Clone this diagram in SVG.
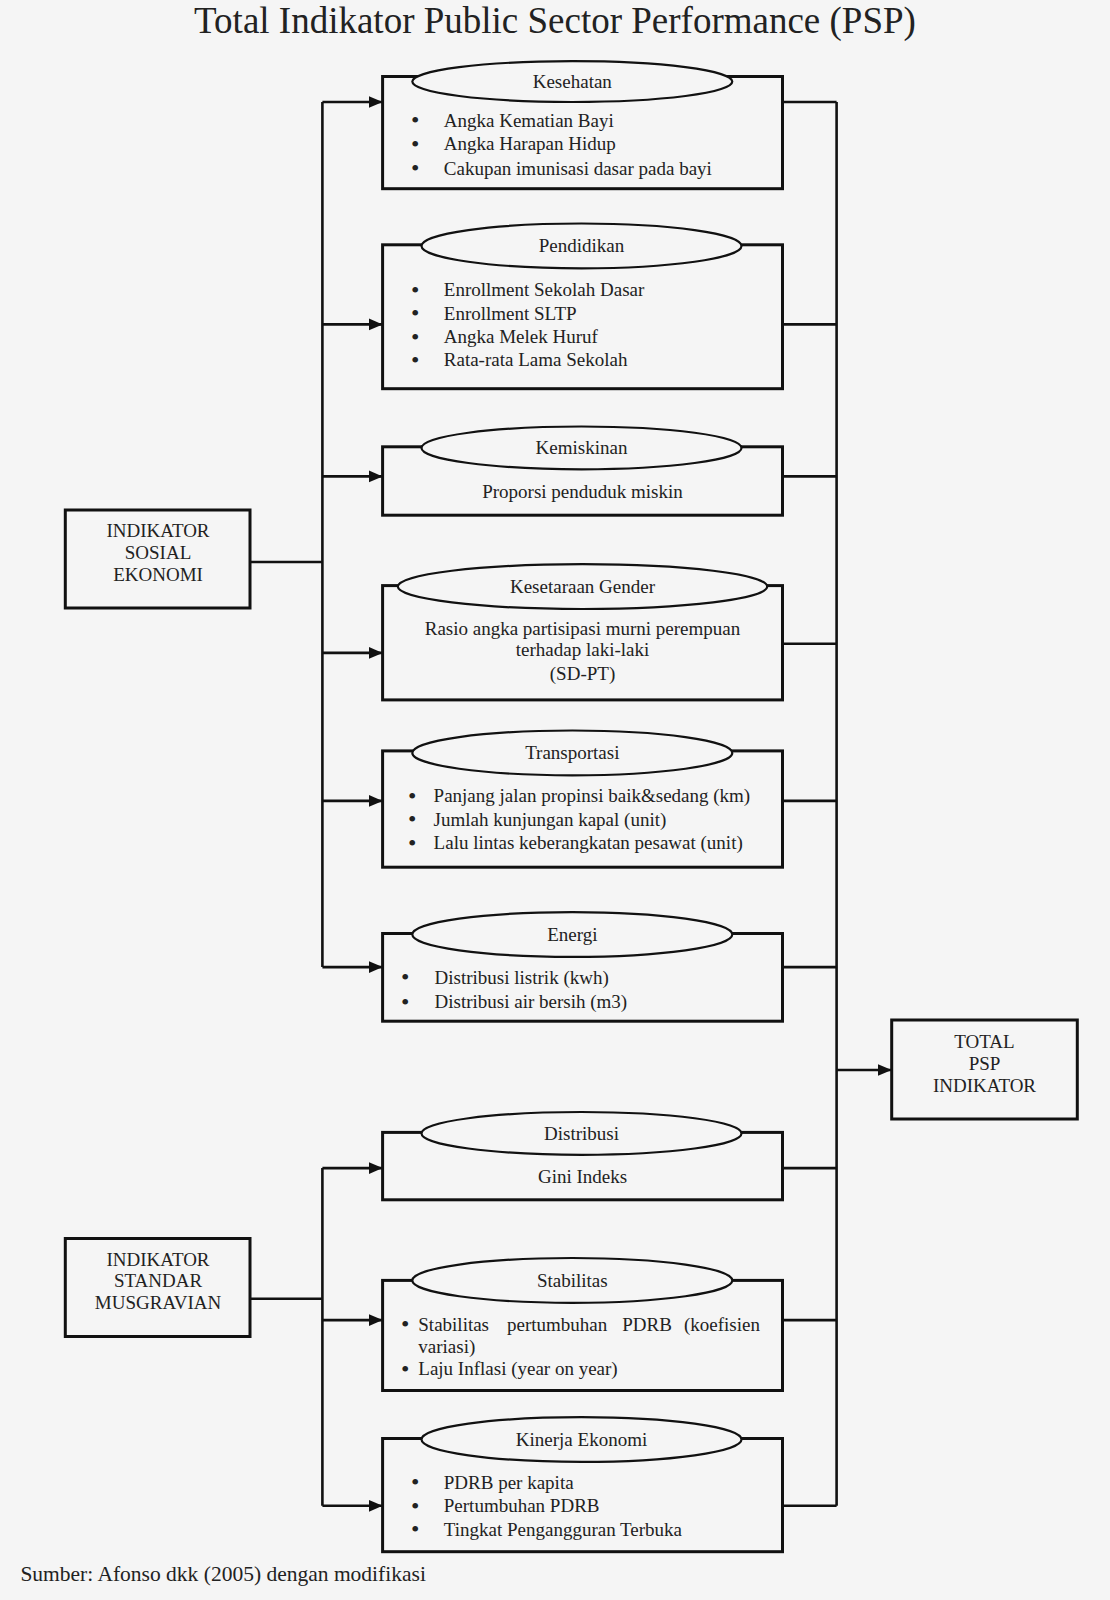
<svg xmlns="http://www.w3.org/2000/svg" width="1110" height="1600" viewBox="0 0 1110 1600">
<defs>
<marker id="arr" markerUnits="userSpaceOnUse" markerWidth="14" markerHeight="14" viewBox="0 0 14 14" refX="14" refY="7" orient="auto"><path d="M0,1 L14,7 L0,13 Z" fill="#111"/></marker>
</defs>
<style>
text{font-family:"Liberation Serif","Times New Roman",serif;fill:#222;font-size:19px}
.b{font-size:24px}
.box{fill:none;stroke:#111;stroke-width:3}
.ell{fill:#f5f5f5;stroke:#111;stroke-width:2.2}
.c{text-anchor:middle}
.ln{fill:none;stroke:#111;stroke-width:2.6}
.ar{fill:none;stroke:#111;stroke-width:2.6;marker-end:url(#arr)}
</style>
<rect x="0" y="0" width="1110" height="1600" fill="#f5f5f5"/>
<text x="555" y="33" class="c" style="font-size:37px">Total Indikator Public Sector Performance (PSP)</text>

<g id="connectors">
<line class="ln" x1="250" y1="562" x2="322.4" y2="562"/>
<line class="ln" x1="322.4" y1="102" x2="322.4" y2="967"/>
<line class="ar" x1="322.4" y1="102" x2="382.6" y2="102"/>
<line class="ar" x1="322.4" y1="324.4" x2="382.6" y2="324.4"/>
<line class="ar" x1="322.4" y1="476.4" x2="382.6" y2="476.4"/>
<line class="ar" x1="322.4" y1="652.9" x2="382.6" y2="652.9"/>
<line class="ar" x1="322.4" y1="800.9" x2="382.6" y2="800.9"/>
<line class="ar" x1="322.4" y1="967.1" x2="382.6" y2="967.1"/>
<line class="ln" x1="250" y1="1298.7" x2="322.4" y2="1298.7"/>
<line class="ln" x1="322.4" y1="1168.1" x2="322.4" y2="1505.8"/>
<line class="ar" x1="322.4" y1="1168.1" x2="382.6" y2="1168.1"/>
<line class="ar" x1="322.4" y1="1320.1" x2="382.6" y2="1320.1"/>
<line class="ar" x1="322.4" y1="1505.8" x2="382.6" y2="1505.8"/>
<line class="ln" x1="836.6" y1="102" x2="836.6" y2="1505.8"/>
<line class="ln" x1="782.5" y1="102" x2="836.6" y2="102"/>
<line class="ln" x1="782.5" y1="324.4" x2="836.6" y2="324.4"/>
<line class="ln" x1="782.5" y1="476.4" x2="836.6" y2="476.4"/>
<line class="ln" x1="782.5" y1="643.7" x2="836.6" y2="643.7"/>
<line class="ln" x1="782.5" y1="800.9" x2="836.6" y2="800.9"/>
<line class="ln" x1="782.5" y1="967.1" x2="836.6" y2="967.1"/>
<line class="ln" x1="782.5" y1="1168.1" x2="836.6" y2="1168.1"/>
<line class="ln" x1="782.5" y1="1320.1" x2="836.6" y2="1320.1"/>
<line class="ln" x1="782.5" y1="1505.8" x2="836.6" y2="1505.8"/>
<line class="ar" x1="836.6" y1="1070" x2="891.7" y2="1070"/>
</g>

<g id="sosial">
<rect class="box" x="65.3" y="510" width="184.7" height="98"/>
<text class="c" x="158" y="537">INDIKATOR</text>
<text class="c" x="158" y="558.5">SOSIAL</text>
<text class="c" x="158" y="581">EKONOMI</text>
</g>

<g id="musgravian">
<rect class="box" x="65.3" y="1238.5" width="184.7" height="98"/>
<text class="c" x="158" y="1265.5">INDIKATOR</text>
<text class="c" x="158" y="1287">STANDAR</text>
<text class="c" x="158" y="1309">MUSGRAVIAN</text>
</g>

<g id="total">
<rect class="box" x="891.7" y="1020" width="185.6" height="99"/>
<text class="c" x="984.5" y="1048">TOTAL</text>
<text class="c" x="984.5" y="1069.5">PSP</text>
<text class="c" x="984.5" y="1092">INDIKATOR</text>
</g>

<g id="kesehatan">
<rect class="box" x="382.6" y="76.5" width="399.9" height="112.2"/>
<ellipse class="ell" cx="572.3" cy="81.6" rx="160" ry="20.4"/>
<text class="c" x="572.3" y="88">Kesehatan</text>
<text class="b" x="411" y="128">•</text><text x="443.8" y="126.5">Angka Kematian Bayi</text>
<text class="b" x="411" y="151.5">•</text><text x="443.8" y="150">Angka Harapan Hidup</text>
<text class="b" x="411" y="176">•</text><text x="443.8" y="174.5">Cakupan imunisasi dasar pada bayi</text>
</g>

<g id="pendidikan">
<rect class="box" x="382.6" y="244.8" width="399.9" height="143.9"/>
<ellipse class="ell" cx="581.5" cy="245.9" rx="160" ry="22.4"/>
<text class="c" x="581.5" y="252.3">Pendidikan</text>
<text class="b" x="411" y="297.5">•</text><text x="443.8" y="296">Enrollment Sekolah Dasar</text>
<text class="b" x="411" y="321">•</text><text x="443.8" y="319.5">Enrollment SLTP</text>
<text class="b" x="411" y="344.5">•</text><text x="443.8" y="343">Angka Melek Huruf</text>
<text class="b" x="411" y="367.9">•</text><text x="443.8" y="366.4">Rata-rata Lama Sekolah</text>
</g>

<g id="kemiskinan">
<rect class="box" x="382.6" y="446.8" width="399.9" height="68.4"/>
<ellipse class="ell" cx="581.5" cy="447.9" rx="160" ry="21.4"/>
<text class="c" x="581.5" y="454.3">Kemiskinan</text>
<text class="c" x="582.5" y="498">Proporsi penduduk miskin</text>
</g>

<g id="gender">
<rect class="box" x="382.6" y="585.6" width="399.9" height="114.3"/>
<ellipse class="ell" cx="582.5" cy="586.6" rx="184.7" ry="22.4"/>
<text class="c" x="582.5" y="593">Kesetaraan Gender</text>
<text class="c" x="582.5" y="634.7">Rasio angka partisipasi murni perempuan</text>
<text class="c" x="582.5" y="656.2">terhadap laki-laki</text>
<text class="c" x="582.5" y="679.6">(SD-PT)</text>
</g>

<g id="transportasi">
<rect class="box" x="382.6" y="750.9" width="399.9" height="116.3"/>
<ellipse class="ell" cx="572.3" cy="752.9" rx="160" ry="22.4"/>
<text class="c" x="572.3" y="759.3">Transportasi</text>
<text class="b" x="408" y="803.6">•</text><text x="433.6" y="802.1">Panjang jalan propinsi baik&amp;sedang (km)</text>
<text class="b" x="408" y="827">•</text><text x="433.6" y="825.5">Jumlah kunjungan kapal (unit)</text>
<text class="b" x="408" y="850.5">•</text><text x="433.6" y="849">Lalu lintas keberangkatan pesawat (unit)</text>
</g>

<g id="energi">
<rect class="box" x="382.6" y="933.5" width="399.9" height="87.7"/>
<ellipse class="ell" cx="572.3" cy="934.5" rx="160" ry="22.4"/>
<text class="c" x="572.3" y="940.9">Energi</text>
<text class="b" x="401" y="985.2">•</text><text x="434.6" y="983.7">Distribusi listrik (kwh)</text>
<text class="b" x="401" y="1009.6">•</text><text x="434.6" y="1008.1">Distribusi air bersih (m3)</text>
</g>

<g id="distribusi">
<rect class="box" x="382.6" y="1132.4" width="399.9" height="67.4"/>
<ellipse class="ell" cx="581.5" cy="1133.4" rx="160" ry="21.4"/>
<text class="c" x="581.5" y="1139.8">Distribusi</text>
<text class="c" x="582.5" y="1182.6">Gini Indeks</text>
</g>

<g id="stabilitas">
<rect class="box" x="382.6" y="1280.4" width="399.9" height="110.1"/>
<ellipse class="ell" cx="572.3" cy="1280.4" rx="160" ry="22.4"/>
<text class="c" x="572.3" y="1286.8">Stabilitas</text>
<text class="b" x="401" y="1332">•</text>
<text y="1330.5"><tspan x="418.3">Stabilitas</tspan><tspan x="507">pertumbuhan</tspan><tspan x="622.3">PDRB</tspan><tspan x="684">(koefisien</tspan></text>
<text x="418.3" y="1353">variasi)</text>
<text class="b" x="401" y="1376.9">•</text><text x="418.3" y="1375.4">Laju Inflasi (year on year)</text>
</g>

<g id="kinerja">
<rect class="box" x="382.6" y="1438.5" width="399.9" height="113.2"/>
<ellipse class="ell" cx="581.5" cy="1439.5" rx="160" ry="22.4"/>
<text class="c" x="581.5" y="1445.9">Kinerja Ekonomi</text>
<text class="b" x="411" y="1490.2">•</text><text x="443.8" y="1488.7">PDRB per kapita</text>
<text class="b" x="411" y="1513.6">•</text><text x="443.8" y="1512.1">Pertumbuhan PDRB</text>
<text class="b" x="411" y="1537.1">•</text><text x="443.8" y="1535.6">Tingkat Pengangguran Terbuka</text>
</g>

<text x="20.4" y="1581" style="font-size:21.5px">Sumber: Afonso dkk (2005) dengan modifikasi</text>
</svg>
